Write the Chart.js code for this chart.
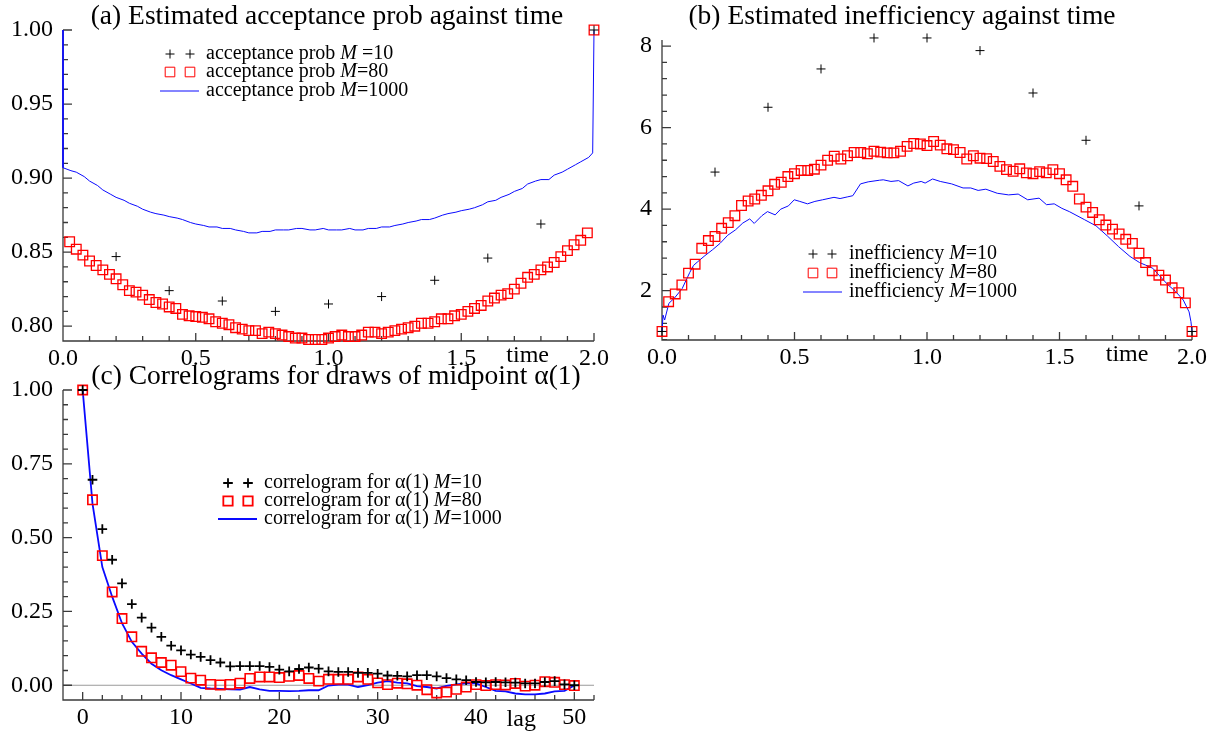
<!DOCTYPE html>
<html><head><meta charset="utf-8">
<script src="https://cdn.jsdelivr.net/npm/chart.js@4.4.0/dist/chart.umd.min.js"></script>
<style>
html,body{margin:0;padding:0;background:#fff;width:1216px;height:734px;overflow:hidden}
.p{position:absolute}
</style></head><body>
<div class="p" style="left:0;top:0;width:620px;height:370px"><canvas id="ca"></canvas></div>
<div class="p" style="left:600px;top:0;width:616px;height:370px"><canvas id="cb"></canvas></div>
<div class="p" style="left:0;top:360px;width:620px;height:374px"><canvas id="cc"></canvas></div>
<script>
// ---------- data ----------
const timeM10 = [0,0.2,0.4,0.6,0.8,1.0,1.2,1.4,1.6,1.8,2.0];
const timeM80 = [0,0.025,0.05,0.075,0.1,0.125,0.15,0.175,0.2,0.225,0.25,0.275,0.3,0.325,0.35,0.375,0.4,0.425,0.45,0.475,0.5,0.525,0.55,0.575,0.6,0.625,0.65,0.675,0.7,0.725,0.75,0.775,0.8,0.825,0.85,0.875,0.9,0.925,0.95,0.975,1.0,1.025,1.05,1.075,1.1,1.125,1.15,1.175,1.2,1.225,1.25,1.275,1.3,1.325,1.35,1.375,1.4,1.425,1.45,1.475,1.5,1.525,1.55,1.575,1.6,1.625,1.65,1.675,1.7,1.725,1.75,1.775,1.8,1.825,1.85,1.875,1.9,1.925,1.95,1.975,2.0];

const accM10 = [null,0.847,0.824,0.817,0.810,0.815,0.820,0.831,0.846,0.869,1.00];
const accM80 = [null,
 0.857,0.852,0.848,0.844,0.841,0.838,0.835,0.832,0.828,0.824,
 0.823,0.821,0.818,0.816,0.815,0.813,0.812,0.808,0.807,0.8065,
 0.806,0.805,0.803,0.802,0.801,0.799,0.798,0.797,0.797,0.795,
 0.796,0.795,0.794,0.793,0.792,0.792,0.791,0.791,0.791,0.792,
 0.793,0.794,0.793,0.793,0.794,0.796,0.796,0.795,0.796,0.797,
 0.798,0.799,0.800,0.802,0.802,0.803,0.805,0.805,0.807,0.808,
 0.810,0.812,0.814,0.817,0.819,0.821,0.822,0.825,0.829,0.833,
 0.835,0.838,0.840,0.843,0.847,0.851,0.855,0.858,0.863,
 1.00];
const accM1000Time = [0,0,0.03,0.05,0.08,0.10,0.13,0.15,0.18,0.20,0.23,0.25,0.28,0.30,0.33,0.35,0.38,0.40,0.43,0.45,0.48,0.50,0.53,0.55,0.58,0.60,0.63,0.65,0.68,0.70,0.73,0.75,0.78,0.80,0.83,0.85,0.88,0.90,0.93,0.95,0.98,1.00,1.03,1.05,1.08,1.10,1.13,1.15,1.18,1.20,1.23,1.25,1.28,1.30,1.33,1.35,1.38,1.40,1.43,1.45,1.48,1.50,1.53,1.55,1.58,1.60,1.63,1.65,1.68,1.70,1.73,1.75,1.78,1.80,1.83,1.85,1.88,1.90,1.93,1.95,1.98,1.995,2.0];
const accM1000 = [1.00,0.907,0.905,0.904,0.901,0.898,0.895,0.892,0.889,0.887,0.885,0.883,0.881,0.879,0.877,0.876,0.875,0.874,0.873,0.872,0.870,0.869,0.868,0.867,0.867,0.866,0.866,0.865,0.864,0.863,0.863,0.864,0.864,0.865,0.865,0.865,0.866,0.866,0.865,0.865,0.866,0.865,0.865,0.865,0.866,0.865,0.865,0.866,0.866,0.867,0.867,0.868,0.869,0.870,0.871,0.872,0.872,0.873,0.875,0.876,0.877,0.878,0.879,0.880,0.882,0.884,0.885,0.887,0.889,0.891,0.893,0.896,0.898,0.899,0.899,0.902,0.904,0.906,0.909,0.911,0.914,0.917,1.00];

const ineffM10 = [1.0,4.91,6.50,7.44,8.20,8.20,7.89,6.85,5.69,4.08,1.0];
const ineffM80 = [1.0,
 1.73,1.92,2.14,2.43,2.65,3.04,3.23,3.33,3.53,3.67,
 3.84,4.09,4.20,4.25,4.34,4.45,4.61,4.66,4.80,4.87,
 4.95,4.95,4.98,5.08,5.20,5.30,5.23,5.31,5.39,5.39,
 5.36,5.42,5.40,5.38,5.38,5.42,5.54,5.61,5.60,5.56,
 5.66,5.57,5.48,5.46,5.39,5.23,5.31,5.25,5.24,5.17,
 5.05,4.97,4.93,4.99,4.89,4.87,4.92,4.89,4.97,4.87,
 4.72,4.56,4.25,4.05,3.92,3.74,3.61,3.51,3.39,3.26,
 3.16,2.92,2.69,2.49,2.38,2.26,2.07,1.95,1.70,
 1.0];
const ineffM1000Time = [0,0.004,0.01,0.026,0.047,0.076,0.105,0.119,0.133,0.162,0.19,0.219,0.248,0.277,0.305,0.331,0.348,0.377,0.398,0.427,0.448,0.477,0.499,0.52,0.549,0.577,0.606,0.649,0.672,0.699,0.72,0.749,0.778,0.821,0.835,0.864,0.893,0.928,0.95,0.978,0.993,1.021,1.05,1.093,1.136,1.165,1.193,1.222,1.265,1.308,1.344,1.38,1.423,1.451,1.48,1.509,1.537,1.566,1.595,1.638,1.681,1.723,1.766,1.802,1.824,1.852,1.881,1.91,1.938,1.967,1.989,1.996,2.0];
const ineffM1000 = [1.0,1.40,1.28,1.69,1.82,2.05,2.45,2.62,2.70,2.86,3.0,3.16,3.36,3.49,3.66,3.76,3.65,3.84,3.94,3.86,4.0,4.08,4.23,4.19,4.13,4.19,4.23,4.29,4.26,4.30,4.33,4.62,4.67,4.71,4.72,4.68,4.70,4.57,4.64,4.68,4.64,4.74,4.68,4.62,4.52,4.52,4.46,4.49,4.39,4.35,4.37,4.23,4.27,4.11,4.13,4.02,3.94,3.84,3.74,3.59,3.34,3.08,2.84,2.69,2.63,2.55,2.34,2.14,1.98,1.77,1.48,1.24,1.0];

const lags = [0,1,2,3,4,5,6,7,8,9,10,11,12,13,14,15,16,17,18,19,20,21,22,23,24,25,26,27,28,29,30,31,32,33,34,35,36,37,38,39,40,41,42,43,44,45,46,47,48,49,50];
const corrM10 = [1.00,0.696,0.529,0.425,0.345,0.275,0.229,0.195,0.164,0.134,0.118,0.104,0.096,0.085,0.077,0.064,0.065,0.065,0.065,0.062,0.053,0.047,0.055,0.060,0.056,0.047,0.045,0.045,0.042,0.042,0.039,0.033,0.032,0.030,0.034,0.034,0.030,0.024,0.020,0.017,0.011,0.010,0.011,0.010,0.009,0.006,0.006,0.011,0.014,0.003,0.000];
const corrM80 = [1.00,0.628,0.439,0.316,0.226,0.164,0.115,0.093,0.077,0.068,0.046,0.024,0.017,0.003,0.001,0.003,0.007,0.023,0.028,0.028,0.026,0.030,0.033,0.023,0.014,0.020,0.020,0.020,0.028,0.020,0.008,0.002,0.007,0.005,0.000,-0.015,-0.026,-0.023,-0.014,-0.006,0.002,-0.001,0.002,0.001,0.006,-0.003,0.000,0.012,0.010,0.002,-0.001];
const corrM1000 = [1.00,0.615,0.400,0.300,0.210,0.147,0.107,0.073,0.051,0.034,0.020,0.006,-0.009,-0.011,-0.012,-0.014,-0.015,-0.006,-0.014,-0.019,-0.019,-0.020,-0.019,-0.017,-0.017,-0.001,0.002,0.002,-0.006,0.000,0.009,0.014,0.009,0.006,-0.003,-0.006,-0.011,-0.002,0.003,0.006,0.006,-0.006,-0.019,-0.021,-0.028,-0.031,-0.031,-0.028,-0.021,-0.019,-0.001];

const timeTicks = [0,0.5,1.0,1.5,2.0];
const accTicks = [0.80,0.85,0.90,0.95,1.00];
const ineffTicks = [2,4,6,8];
const lagTicks = [0,10,20,30,40,50];
const corrTicks = [0,0.25,0.50,0.75,1.00];

const titleA = '(a) Estimated acceptance prob against time';
const titleB = '(b) Estimated inefficiency against time';
const titleC = '(c) Correlograms for draws of midpoint \u03b1(1)';
const legendA = ['acceptance prob M =10','acceptance prob M=80','acceptance prob M=1000'];
const legendB = ['inefficiency M=10','inefficiency M=80','inefficiency M=1000'];
const legendC = ['correlogram for \u03b1(1) M=10','correlogram for \u03b1(1) M=80','correlogram for \u03b1(1) M=1000'];

// ---------- helpers ----------
const FONT = '"Liberation Serif","Times New Roman",serif';
const TICKSIZE = 24;
Chart.defaults.font.family = FONT;
Chart.defaults.color = '#000';

function pts(xs, ys){ const r=[]; xs.forEach((x,i)=>{ if(ys[i]!==null) r.push({x:x,y:ys[i]}); }); return r; }

function steps(start, step, end){ const r=[]; for(let k=0;;k++){ const v=start+k*step; if(v>end+1e-9) break; r.push(+v.toFixed(6)); } return r; }
function isMajor(v, m){ const q=v/m; return Math.abs(q-Math.round(q))<1e-6; }

const axesDeco = {
  id:'axesDeco',
  beforeDatasetsDraw(chart, args, o){
    const {ctx, chartArea:a, scales:{x,y}} = chart;
    ctx.save();
    if (o.zero){
      const zp = y.getPixelForValue(0);
      ctx.strokeStyle = '#9a9a9a'; ctx.lineWidth = 1.2;
      ctx.beginPath(); ctx.moveTo(a.left, zp); ctx.lineTo(a.right, zp); ctx.stroke();
    }
    ctx.strokeStyle = '#3a3a3a'; ctx.lineWidth = 1.3;
    ctx.beginPath();
    ctx.moveTo(a.left, a.top); ctx.lineTo(a.left, a.bottom); ctx.lineTo(a.right, a.bottom);
    steps(o.xs[0], o.xs[1], x.max).forEach(v=>{
      const p = x.getPixelForValue(v);
      ctx.moveTo(p, a.bottom); ctx.lineTo(p, a.bottom - (isMajor(v,o.xs[2])?8:5));
    });
    steps(o.ys[0], o.ys[1], y.max).forEach(v=>{
      const p = y.getPixelForValue(v);
      ctx.moveTo(a.left, p); ctx.lineTo(a.left + (isMajor(v,o.ys[2])?9:5), p);
    });
    ctx.stroke();
    ctx.fillStyle = '#000';
    ctx.font = TICKSIZE + 'px ' + FONT;
    ctx.textAlign = 'center'; ctx.textBaseline = 'middle';
    ctx.fillText(o.name, x.getPixelForValue(o.nameAt), a.bottom + o.nameDy);
    ctx.restore();
  },
  afterDraw(chart, args, o){
    const ctx = chart.ctx;
    ctx.save();
    // panel title
    ctx.fillStyle = '#000'; ctx.textAlign = 'center'; ctx.textBaseline = 'middle';
    ctx.font = '27.5px ' + FONT;
    ctx.fillText(o.title, o.titleX, 16.5);
    // legend
    o.legend.forEach((s,i)=>{
      const ds = chart.data.datasets[i];
      const yy = o.ly[i];
      if (ds.showLine){
        ctx.strokeStyle = ds.borderColor; ctx.lineWidth = ds.borderWidth;
        ctx.beginPath(); ctx.moveTo(o.line[0], yy); ctx.lineTo(o.line[1], yy); ctx.stroke();
      } else {
        ctx.strokeStyle = ds.borderColor; ctx.fillStyle = 'rgba(0,0,0,0)';
        o.marks.forEach(mx=>{
          Chart.helpers.drawPoint(ctx, {pointStyle: ds.pointStyle, radius: ds.pointRadius, borderWidth: ds.borderWidth, rotation:0}, mx, yy);
        });
      }
      const idx = s.lastIndexOf('M');
      const parts = [[s.slice(0,idx),''],['M','italic '],[s.slice(idx+1),'']];
      let xx = o.tx;
      ctx.fillStyle = '#000'; ctx.textAlign='left'; ctx.textBaseline='middle';
      parts.forEach(([t,st])=>{
        ctx.font = st + o.fs + 'px ' + FONT;
        ctx.fillText(t, xx, yy);
        xx += ctx.measureText(t).width;
      });
    });
    ctx.restore();
  }
};

function makeChart(id, cfg){
  const xTicks = cfg.xTicks, yTicks = cfg.yTicks;
  return new Chart(document.getElementById(id), {
    type:'scatter',
    data:{datasets:cfg.datasets},
    plugins:[axesDeco],
    options:{
      responsive:true, maintainAspectRatio:false, animation:false, events:[],
      layout:{padding:{left:0,right:cfg.padRight,top:cfg.padTop,bottom:0}},
      plugins:{
        legend:{display:false}, tooltip:{enabled:false}, title:{display:false},
        axesDeco:cfg.deco
      },
      scales:{
        x:{type:'linear', min:cfg.xmin, max:cfg.xmax,
           grid:{display:false, drawTicks:false}, border:{display:false},
           ticks:{font:{size:TICKSIZE}, padding:3, maxRotation:0, autoSkip:false, callback:cfg.xFmt},
           afterBuildTicks:s=>{ s.ticks = xTicks.map(v=>({value:v})); },
           afterFit:s=>{ s.height = cfg.xh; }},
        y:{type:'linear', min:cfg.ymin, max:cfg.ymax,
           grid:{display:false, drawTicks:false}, border:{display:false},
           ticks:{font:{size:TICKSIZE}, padding:10, autoSkip:false, callback:cfg.yFmt},
           afterBuildTicks:s=>{ s.ticks = yTicks.map(v=>({value:v})); },
           afterFit:s=>{ s.width = cfg.yw; }}
      }
    }
  });
}

function crossDs(label, data, r, w){ return {label, data, pointStyle:'cross', pointRadius:r, borderWidth:w, borderColor:'#000', backgroundColor:'rgba(0,0,0,0)', showLine:false, clip:false}; }
function rectDs(label, data, r, w){ return {label, data, pointStyle:'rect', pointRadius:r, borderWidth:w, borderColor:'#ff0000', backgroundColor:'rgba(0,0,0,0)', showLine:false, clip:false}; }
function lineDs(label, data, w){ return {label, data, showLine:true, pointRadius:0, borderWidth:w, borderColor:'#0a0aff', backgroundColor:'#0a0aff', tension:0, clip:false}; }

makeChart('ca', {
  padTop:30, padRight:26, xh:29, yw:63,
  xmin:0, xmax:2, ymin:0.79, ymax:1.0,
  xTicks:timeTicks, yTicks:accTicks,
  xFmt:v=>v.toFixed(1), yFmt:v=>v.toFixed(2),
  datasets:[
    crossDs(legendA[0], pts(timeM10, accM10), 4.5, 1),
    rectDs(legendA[1], pts(timeM80, accM80), 6.8, 1.3),
    lineDs(legendA[2], pts(accM1000Time, accM1000), 1)
  ],
  deco:{title:titleA, titleX:327, xs:[0,0.1,0.5], ys:[0.79,0.01,0.05], name:'time', nameAt:1.75, nameDy:15,
        legend:legendA, marks:[170,190], line:[160,199], tx:206, ly:[54,72,91], fs:20}
});

makeChart('cb', {
  padTop:40, padRight:24, xh:30, yw:62,
  xmin:0, xmax:2, ymin:0.79, ymax:8.15,
  xTicks:timeTicks, yTicks:ineffTicks,
  xFmt:v=>v.toFixed(1), yFmt:v=>String(v),
  datasets:[
    crossDs(legendB[0], pts(timeM10, ineffM10), 4.5, 1),
    rectDs(legendB[1], pts(timeM80, ineffM80), 6.8, 1.3),
    lineDs(legendB[2], pts(ineffM1000Time, ineffM1000), 1)
  ],
  deco:{title:titleB, titleX:302, xs:[0,0.1,0.5], ys:[0.8,0.4,2], name:'time', nameAt:1.755, nameDy:15,
        legend:legendB, marks:[213,232], line:[203,242], tx:249, ly:[254,273,292], fs:20}
});

makeChart('cc', {
  padTop:30, padRight:26, xh:34, yw:63,
  xmin:-2, xmax:52, ymin:-0.05, ymax:1.0,
  xTicks:lagTicks, yTicks:corrTicks,
  xFmt:v=>String(v), yFmt:v=>v.toFixed(2),
  datasets:[
    crossDs(legendC[0], pts(lags, corrM10), 4.8, 1.8),
    rectDs(legendC[1], pts(lags, corrM80), 6.6, 1.6),
    lineDs(legendC[2], pts(lags, corrM1000), 1.8)
  ],
  deco:{title:titleC, titleX:336, xs:[-2,2,10], ys:[-0.05,0.05,0.25], zero:true, name:'lag', nameAt:44.6, nameDy:20,
        legend:legendC, marks:[228,248], line:[218,257], tx:264, ly:[123,141,159], fs:20}
});
</script>
</body></html>
